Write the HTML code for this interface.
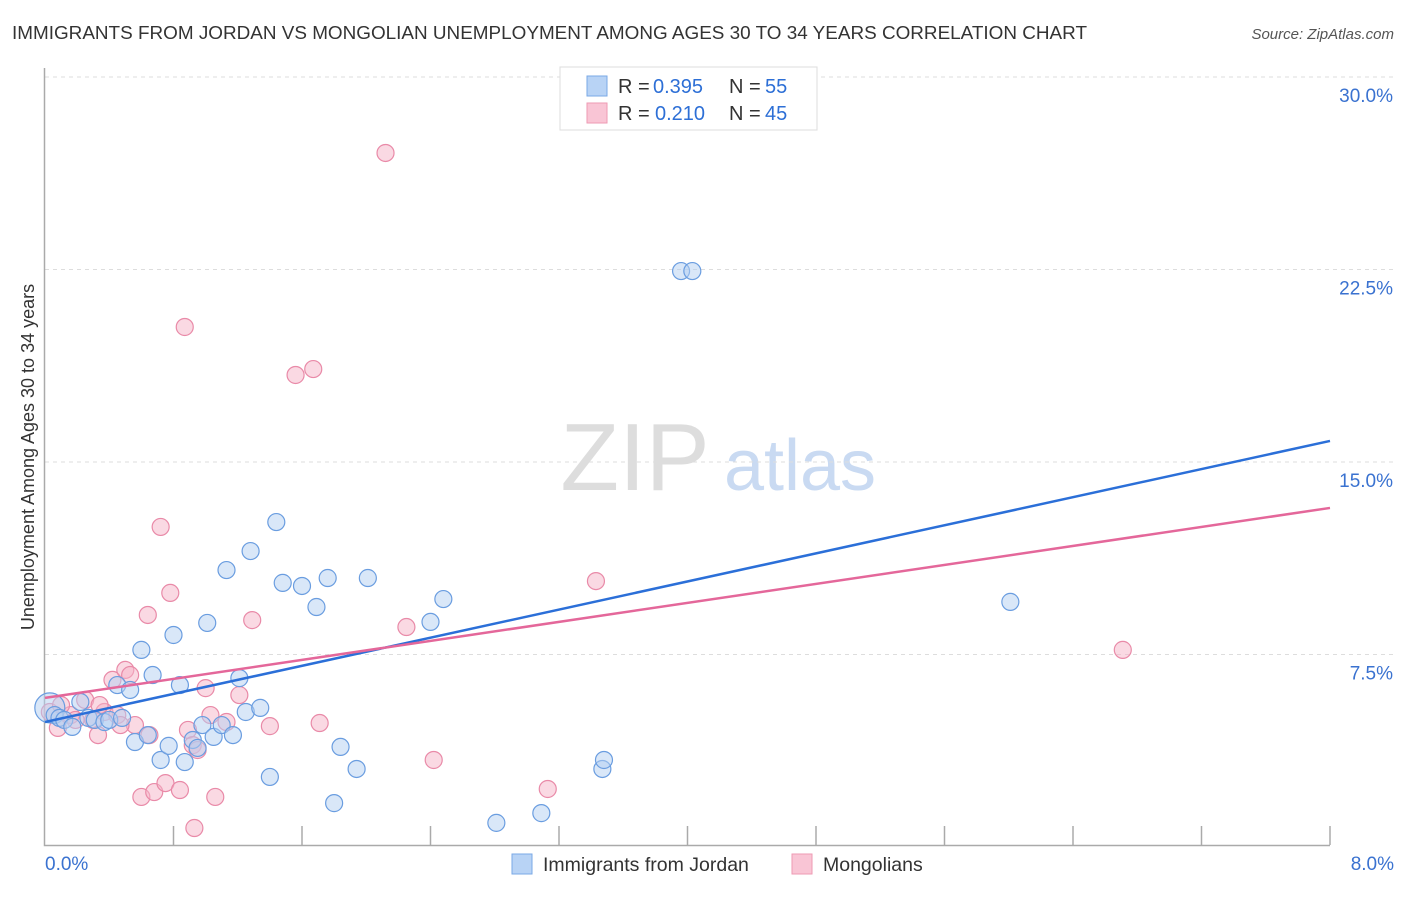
<!DOCTYPE html>
<html><head><meta charset="utf-8"><style>
body{margin:0;background:#fff;font-family:"Liberation Sans",sans-serif}
svg text{font-family:"Liberation Sans",sans-serif}
</style></head><body>
<svg id="chart" width="1406" height="892" xmlns="http://www.w3.org/2000/svg">
<text x="12" y="39" font-size="18" fill="#333" textLength="1075" lengthAdjust="spacingAndGlyphs">IMMIGRANTS FROM JORDAN VS MONGOLIAN UNEMPLOYMENT AMONG AGES 30 TO 34 YEARS CORRELATION CHART</text>
<text x="1394" y="39" font-size="15" fill="#555" text-anchor="end" font-style="italic">Source: ZipAtlas.com</text>
<text transform="translate(34,457) rotate(-90)" font-size="18" fill="#333" text-anchor="middle">Unemployment Among Ages 30 to 34 years</text>
<g>
<text x="635" y="490" font-size="96" fill="#ddd" font-family="Liberation Serif" text-anchor="middle">ZIP</text>
<text x="800" y="490" font-size="72" fill="#c9daf2" text-anchor="middle">atlas</text>
</g>
<g id="grid"></g><g id="pts"></g><g id="lines"></g>
<g>
<rect x="560" y="67" width="257" height="63" fill="#fff" stroke="#ddd"/>
<rect x="587" y="76" width="20" height="20" fill="#b8d3f5" stroke="#7aa8e6"/>
<rect x="587" y="103" width="20" height="20" fill="#f9c5d5" stroke="#ee9ab3"/>
<text y="93" font-size="20" fill="#333"><tspan x="618">R =</tspan><tspan x="653" fill="#2d6fd6">0.395</tspan><tspan x="729">N =</tspan><tspan x="765" fill="#2d6fd6">55</tspan></text>
<text y="120" font-size="20" fill="#333"><tspan x="618">R =</tspan><tspan x="655" fill="#2d6fd6">0.210</tspan><tspan x="729">N =</tspan><tspan x="765" fill="#2d6fd6">45</tspan></text>
</g>
<g>
<rect x="512" y="854" width="20" height="20" fill="#b8d3f5" stroke="#7aa8e6"/>
<text x="543" y="871" font-size="19.5" fill="#333">Immigrants from Jordan</text>
<rect x="792" y="854" width="20" height="20" fill="#f9c5d5" stroke="#ee9ab3"/>
<text x="823" y="871" font-size="19.5" fill="#333">Mongolians</text>
</g>
</svg>
<script>
const yTicks=[7.5,15,22.5,30];
const yTickLabels=["7.5%","15.0%","22.5%","30.0%"];
const xEndLabels=["0.0%","8.0%"];
const blueX=[.03,.06,.09,.12,.17,.22,.27,.31,.37,.40,.45,.48,.53,.56,.60,.64,.67,.72,.77,.80,.84,.87,.92,.95,.98,1.01,1.05,1.10,1.13,1.17,1.21,1.25,1.28,1.34,1.40,1.44,1.48,1.60,1.69,1.76,1.80,1.84,1.94,2.01,2.40,2.48,2.81,3.09,3.47,3.48,3.96,4.03,6.01];
const blueY=[5.42,5.14,5.03,4.95,4.68,5.65,5.03,4.95,4.87,4.95,6.31,5.03,6.12,4.09,7.68,4.36,6.70,3.39,3.94,8.26,6.31,3.31,4.17,3.86,4.75,8.73,4.29,4.75,10.79,4.36,6.58,5.26,11.53,5.42,2.73,12.66,10.29,10.17,9.35,10.48,1.71,3.90,3.04,10.48,8.77,9.66,0.94,1.32,3.04,3.39,22.44,22.44,9.55];
const pinkX=[.03,.08,.16,.25,.30,.33,.37,.42,.45,.50,.53,.56,.60,.64,.65,.68,.72,.75,.78,.84,.87,.89,.92,.95,1.00,1.03,1.06,1.13,1.21,1.29,1.40,1.56,1.67,1.71,2.12,2.25,2.42,3.13,3.43,6.71,.93,.10,.19,.34,.47];
const pinkY=[5.26,4.64,5.14,5.73,4.95,4.36,5.26,6.51,5.14,6.90,6.70,4.75,1.95,9.04,4.36,2.14,12.47,2.49,9.90,2.22,20.26,4.56,3.97,3.78,6.19,5.14,1.95,4.87,5.92,8.84,4.71,18.39,18.62,4.83,27.04,8.57,3.39,2.26,10.36,7.68,0.74,5.53,4.95,5.53,4.75];
const blueTrend=[4.87,15.82];
const pinkTrend=[5.81,13.21];
const NS="http://www.w3.org/2000/svg";
const sx=v=>45+v/8*1285, sy=v=>847-v/7.5*192.5;
function mk(tag,attrs,parent){const e=document.createElementNS(NS,tag);for(const k in attrs)e.setAttribute(k,attrs[k]);parent.appendChild(e);return e;}
const grid=document.getElementById('grid');
yTicks.forEach((t,i)=>{
 const l=mk('line',{x1:45,x2:1394,y1:sy(t),y2:sy(t),stroke:'#ddd','stroke-dasharray':'4,4'},grid);
 
 
 const tx=mk('text',{x:1393,y:sy(t)+25,'font-size':19,fill:'#3a72d0','text-anchor':'end'},grid);
 tx.textContent=yTickLabels[i];
 
 
});
const ax=mk('path',{d:'M44.5,68 V845.5 H1330',stroke:'#aaa',fill:'none','stroke-width':1.5},grid);


for(let i=1;i<=10;i++){const x=sx(i*0.8);const t=mk('line',{x1:x,x2:x,y1:826,y2:845,stroke:'#aaa','stroke-width':1.5},grid);
 
 }
[[0,'start',45],[8,'end',1394]].forEach((d,i)=>{const t=mk('text',{x:d[2],y:870,'font-size':19,fill:'#3a72d0','text-anchor':d[1]},grid);t.textContent=xEndLabels[i];
 
 });
const pts=document.getElementById('pts');
function dots(X,Y,fill,stroke,name){X.forEach((x,i)=>{const c=mk('circle',{cx:sx(x),cy:sy(Y[i]),r:(i==0&&name=='jordan-point')?15:8.5,fill:fill,'fill-opacity':0.5,stroke:stroke,'stroke-width':1.2},pts);
 
 });}
dots(pinkX,pinkY,'#f5b3c8','#e98aa8','mongolian-point');
dots(blueX,blueY,'#b3cff2','#6a9de0','jordan-point');
const lines=document.getElementById('lines');
const bl=mk('line',{x1:sx(0),y1:sy(blueTrend[0]),x2:sx(8),y2:sy(blueTrend[1]),stroke:'#2b6fd8','stroke-width':2.5},lines);


const pl=mk('line',{x1:sx(0),y1:sy(pinkTrend[0]),x2:sx(8),y2:sy(pinkTrend[1]),stroke:'#e4679a','stroke-width':2.5},lines);


</script>
</body></html>
